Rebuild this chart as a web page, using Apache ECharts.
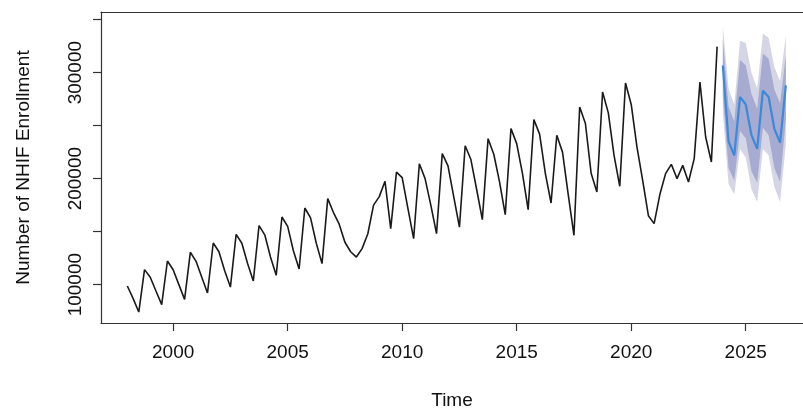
<!DOCTYPE html>
<html lang="en">
<head>
    <meta charset="UTF-8">
    <title>NHIF enrollment forecast</title>
    <script src="https://cdn.jsdelivr.net/npm/echarts@6/dist/echarts.min.js"></script>
    <style>
        html, body { margin: 0; padding: 0; background: #fff; }
        #main { width: 803px; height: 417px; }
    </style>
</head>
<body>
<div id="main"></div>
<script>
    // quarterly series, starts 1998 Q1
    var startYear = 1998;
    var enrol = [
        98700, 87000, 74150, 114150,
        107000, 94000, 81130, 122300,
        114000, 100000, 86100, 130500,
        122000, 107000, 92100, 139250,
        131000, 113000, 97700, 147450,
        139000, 120000, 103400, 155650,
        147000, 126000, 108800, 163800,
        155000, 132000, 114700, 172300,
        163000, 139000, 119800, 181150,
        168000, 157000, 140000, 131000,
        126000, 134000, 148000, 175000,
        183000, 197500, 152800, 206200,
        201000, 172000, 143400, 214000,
        200000, 175000, 148100, 223600,
        212000, 183000, 154300, 231000,
        218000, 190000, 161300, 237700,
        223000, 197000, 166000, 247200,
        233000, 205000, 170750, 255650,
        242000, 205000, 177000, 240850,
        225000, 185000, 146500, 267550,
        252000, 205000, 187400, 281700,
        262000, 222000, 192750, 290200,
        270000, 230000, 198400, 165000,
        157550, 185000, 204700, 213500,
        200000, 212500, 196800, 218900,
        291100, 239250, 215650, 324500
    ];

    // forecast 2024 Q1 .. 2026 Q4
    var fcStart = 2024;
    var fcMean = [306700, 235000, 222000, 277000, 270000, 241000, 228000, 283000, 277000, 247000, 234000, 288000];
    var hi95 = [344000, 285000, 270000, 330000, 328000, 300000, 285000, 337000, 333000, 305000, 292000, 335000];
    var lo95 = [262000, 195000, 185000, 228000, 220000, 190000, 178000, 228000, 222000, 192000, 178000, 232000];
    var hi80 = [331000, 268000, 254000, 312000, 307000, 280000, 266000, 318000, 313000, 284000, 271000, 316000];
    var lo80 = [278000, 210000, 198000, 245000, 238000, 207000, 196000, 248000, 241000, 210000, 197000, 256000];

    var xTicks = [2000, 2005, 2010, 2015, 2020, 2025];
    var yTicks = [100000, 150000, 200000, 250000, 300000, 350000];
    var yLabels = [100000, 200000, 300000];

    var histData = enrol.map(function (v, i) { return [startYear + i / 4, v]; });
    var fcData = fcMean.map(function (v, i) { return [fcStart + i / 4, v]; });

    // band polygon: upper edge left->right, lower edge right->left
    function band(hi, lo, color) {
        return {
            type: 'custom',
            silent: true,
            data: [[fcStart, hi[0]]],
            renderItem: function (params, api) {
                var pts = [];
                for (var i = 0; i < hi.length; i++) pts.push(api.coord([fcStart + i / 4, hi[i]]));
                for (var j = lo.length - 1; j >= 0; j--) pts.push(api.coord([fcStart + j / 4, lo[j]]));
                return { type: 'polygon', shape: { points: pts }, style: { fill: color } };
            }
        };
    }

    var txt = { fontFamily: 'Liberation Sans, Arial, sans-serif', color: '#111', fontSize: 19 };
    var axisCol = '#333';
    var plain = function (v) { return String(v); };

    var myChart = echarts.init(document.getElementById('main'), null, { renderer: 'canvas' });

    // plot frame runs past the right edge of the picture
    var xMin = 1996.85, xMax = 2027.5;

    var option = {
        animation: false,
        grid: { left: 101, top: 12, right: 0, bottom: 94 },
        xAxis: [{
            type: 'value',
            min: xMin, max: xMax,
            name: 'Time', nameLocation: 'middle', nameGap: 68,
            nameTextStyle: txt,
            axisLine: { show: true, lineStyle: { color: axisCol, width: 1.2 } },
            axisTick: { show: true, length: 8, lineStyle: { color: axisCol, width: 1.2 }, customValues: xTicks },
            axisLabel: Object.assign({ margin: 20, customValues: xTicks, formatter: plain }, txt),
            splitLine: { show: false }
        }, {
            // top frame line
            type: 'value', position: 'top',
            min: xMin, max: xMax,
            axisLine: { show: true, lineStyle: { color: axisCol, width: 1.2 } },
            axisTick: { show: false }, axisLabel: { show: false }, splitLine: { show: false }
        }],
        yAxis: {
            type: 'value',
            min: 63800, max: 357200,
            name: 'Number of NHIF Enrollment', nameLocation: 'middle', nameGap: 68,
            nameTextStyle: txt,
            axisLine: { show: true, lineStyle: { color: axisCol, width: 1.2 } },
            axisTick: { show: true, length: 8, lineStyle: { color: axisCol, width: 1.2 }, customValues: yTicks },
            axisLabel: Object.assign({ margin: 16, rotate: 90, customValues: yLabels, formatter: plain }, txt),
            splitLine: { show: false }
        },
        series: [
            band(hi95, lo95, '#d5d6e5'),
            band(hi80, lo80, '#a7abd1'),
            {
                type: 'line', data: histData, symbol: 'none',
                lineStyle: { color: '#1a1a1a', width: 1.6 }
            },
            {
                type: 'line', data: fcData, symbol: 'none',
                lineStyle: { color: '#3a8ad8', width: 2.2 }
            }
        ]
    };

    myChart.setOption(option);
</script>
</body>
</html>
